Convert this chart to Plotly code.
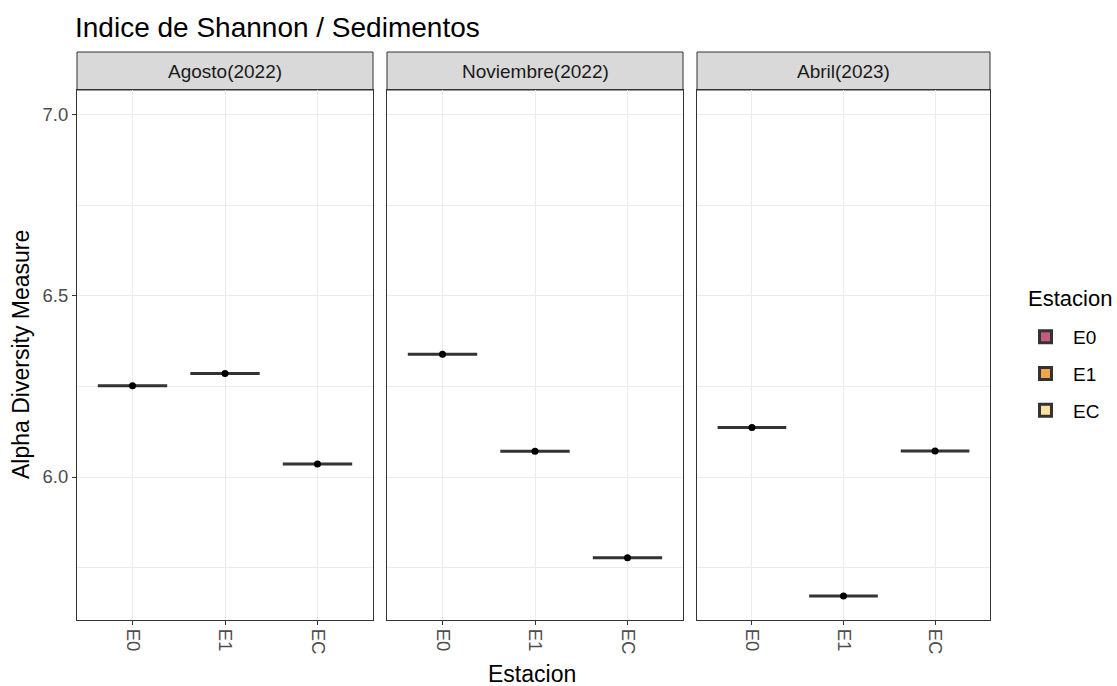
import plotly.graph_objects as go

# ---- data ----
stations = ["E0", "E1", "EC"]
periods = ["Agosto(2022)", "Noviembre(2022)", "Abril(2023)"]
shannon_agosto = [6.252, 6.286, 6.036]
shannon_noviembre = [6.339, 6.071, 5.777]
shannon_abril = [6.137, 5.671, 6.072]
fill_colors = ["#C25B7C", "#F3A44F", "#FEE2A1"]
y_ticks = [6.0, 6.5, 7.0]

series = [shannon_agosto, shannon_noviembre, shannon_abril]

W, H = 1117, 686
ML, MR, MT, MB = 77, 127, 90, 66
PW = W - ML - MR
PH = H - MT - MB
FONT = "Liberation Sans, Arial, sans-serif"

panel_px = [(77, 373), (387, 683), (697, 990)]
domains = [[(a - ML) / PW, (b - ML) / PW] for a, b in panel_px]

fig = go.Figure()

for p, vals in enumerate(series):
    xa = "x" if p == 0 else f"x{p+1}"
    ya = "y" if p == 0 else f"y{p+1}"
    for i, st in enumerate(stations):
        fig.add_trace(go.Box(
            x=[st], y=[vals[i]], name=st, legendgroup=st,
            showlegend=(p == 0), fillcolor=fill_colors[i],
            line=dict(color="#333333", width=3), width=0.75,
            boxpoints=False, xaxis=xa, yaxis=ya,
        ))
    fig.add_trace(go.Scatter(
        x=stations, y=vals, mode="markers",
        marker=dict(color="black", size=7), showlegend=False,
        xaxis=xa, yaxis=ya, hoverinfo="skip",
    ))

axis_common = dict(
    showline=True, mirror=True, linecolor="#333333", linewidth=1,
    showgrid=True, gridcolor="#EBEBEB", gridwidth=1, zeroline=False,
    ticks="outside", ticklen=4, tickcolor="#333333",
    tickfont=dict(family=FONT, size=18.5, color="#4D4D4D"),
)

layout_axes = {}
for p in range(3):
    xk = "xaxis" if p == 0 else f"xaxis{p+1}"
    yk = "yaxis" if p == 0 else f"yaxis{p+1}"
    layout_axes[xk] = dict(
        axis_common, domain=domains[p], anchor="y" if p == 0 else f"y{p+1}",
        type="category", categoryorder="array", categoryarray=stations,
        range=[-0.6, 2.6], tickangle=90,
    )
    yax = dict(
        axis_common, domain=[0, 1], anchor="x" if p == 0 else f"x{p+1}",
        range=[5.605, 7.069], tickvals=y_ticks,
        ticktext=[f"{v:.1f}" for v in y_ticks],
        minor=dict(tickvals=[5.75, 6.25, 6.75], showgrid=True,
                   gridcolor="#EBEBEB", gridwidth=0.6, ticks=""),
    )
    if p > 0:
        yax["matches"] = "y"
        yax["showticklabels"] = False
        yax["ticks"] = ""
    layout_axes[yk] = yax

fig.update_layout(**layout_axes)

shapes = []
annotations = []
strip_top = 1 + (MT - 52) / PH
for p in range(3):
    x0, x1 = domains[p]
    shapes.append(dict(type="rect", xref="paper", yref="paper",
                       x0=x0, x1=x1, y0=1, y1=strip_top,
                       fillcolor="#D9D9D9", line=dict(color="#333333", width=1),
                       layer="below"))
    annotations.append(dict(text=periods[p], xref="paper", yref="paper",
                            x=(x0 + x1) / 2, y=(1 + strip_top) / 2,
                            showarrow=False, xanchor="center", yanchor="middle",
                            font=dict(family=FONT, size=19, color="#1A1A1A")))

annotations.append(dict(text="Estacion", xref="paper", yref="paper",
                        x=(532 - ML) / PW, y=-(674 - (H - MB)) / PH,
                        showarrow=False, xanchor="center", yanchor="middle",
                        font=dict(family=FONT, size=23, color="black")))
annotations.append(dict(text="Alpha Diversity Measure", xref="paper", yref="paper",
                        x=-(ML - 21) / PW, y=0.5, textangle=-90,
                        showarrow=False, xanchor="center", yanchor="middle",
                        font=dict(family=FONT, size=23, color="black")))
# legend title
annotations.append(dict(text="Estacion", xref="paper", yref="paper",
                        x=(1026 - ML) / PW, y=(H - MB - 298) / PH,
                        showarrow=False, xanchor="left", yanchor="middle",
                        xshift=0, font=dict(family=FONT, size=22, color="black")))

fig.update_layout(
    width=W, height=H,
    margin=dict(l=ML, r=MR, t=MT, b=MB),
    paper_bgcolor="white", plot_bgcolor="white",
    title=dict(text="Indice de Shannon / Sedimentos", x=75 / W, xanchor="left",
               y=1 - 27 / H, yanchor="middle", xref="container", yref="container",
               font=dict(family=FONT, size=28, color="black")),
    shapes=shapes, annotations=annotations,
    legend=dict(font=dict(family=FONT, size=19, color="black"),
                x=(1018 - ML) / PW, y=(H - MB - 318) / PH, xanchor="left", yanchor="top",
                tracegroupgap=9, itemwidth=45, bgcolor="rgba(0,0,0,0)"),
    boxmode="overlay",
    showlegend=True,
)

fig.write_html("out.html")
